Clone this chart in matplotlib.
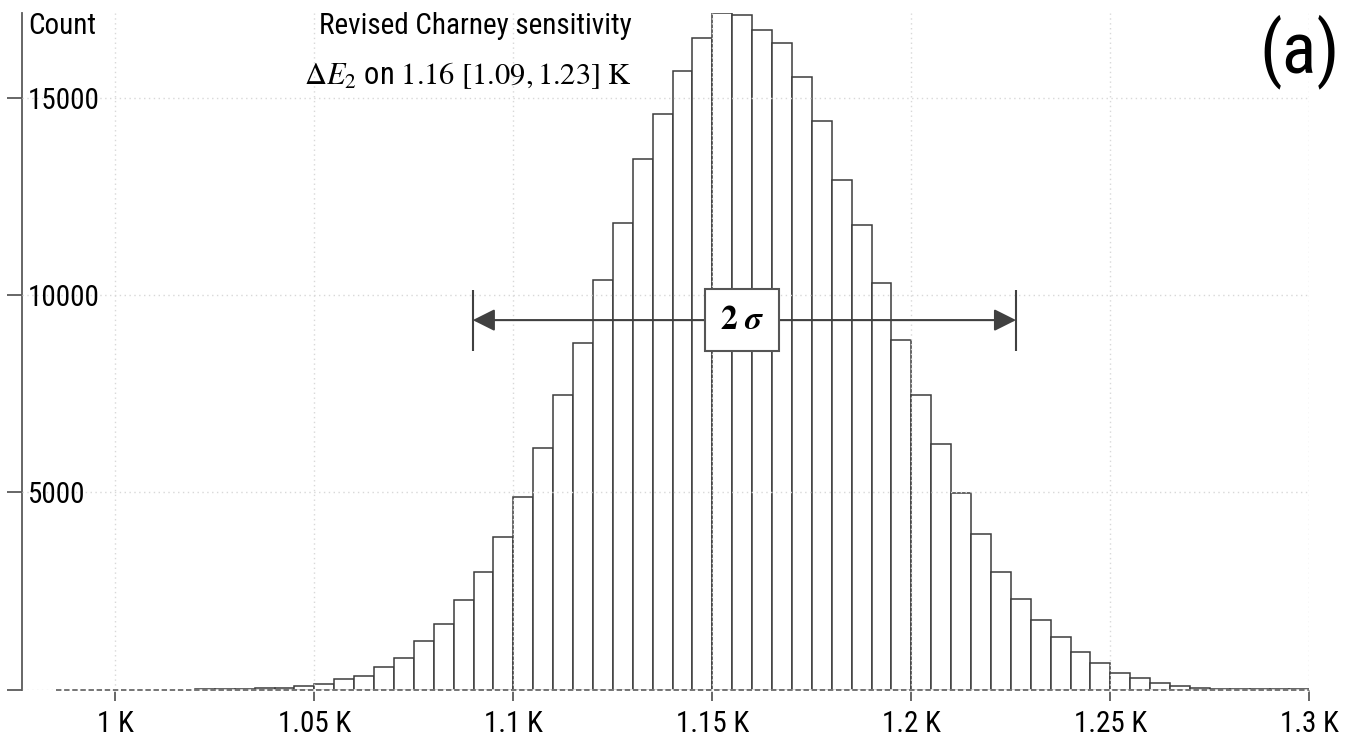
import matplotlib
matplotlib.use("Agg")
import matplotlib.pyplot as plt
from matplotlib import font_manager
import numpy as np

# ---------------- data ----------------
bin_width = 0.005
bin_left = [1.020, 1.025, 1.030, 1.035, 1.040, 1.045, 1.050, 1.055, 1.060, 1.065,
            1.070, 1.075, 1.080, 1.085, 1.090, 1.095, 1.100, 1.105, 1.110, 1.115,
            1.120, 1.125, 1.130, 1.135, 1.140, 1.145, 1.150, 1.155, 1.160, 1.165,
            1.170, 1.175, 1.180, 1.185, 1.190, 1.195, 1.200, 1.205, 1.210, 1.215,
            1.220, 1.225, 1.230, 1.235, 1.240, 1.245, 1.250, 1.255, 1.260, 1.265,
            1.270, 1.275, 1.280, 1.285, 1.290, 1.295]
counts = [5, 8, 15, 30, 50, 85, 135, 260, 335, 585,
          795, 1245, 1660, 2265, 2975, 3865, 4885, 6125, 7460, 8780,
          10385, 11840, 13445, 14595, 15690, 16515, 17150, 17115, 16730, 16385,
          15525, 14425, 12915, 11780, 10320, 8855, 7460, 6225, 4995, 3955,
          2975, 2290, 1765, 1325, 945, 665, 415, 300, 175, 100,
          50, 25, 22, 10, 6, 3]

xticks = [1.0, 1.05, 1.1, 1.15, 1.2, 1.25, 1.3]
xtick_labels = ["1 K", "1.05 K", "1.1 K", "1.15 K", "1.2 K", "1.25 K", "1.3 K"]
yticks = [0, 5000, 10000, 15000]
ytick_labels = ["", "5000", "10000", "15000"]

sigma_lo = 1.0898
sigma_hi = 1.2263
arrow_count = 9370

title_line1 = "Revised Charney sensitivity"
title_line2 = r"$\Delta E_2$ on $1.16\ [1.09, 1.23]\ \mathrm{K}$"
panel_label = "(a)"
sigma_label = r"$\mathbf{2}\ \boldsymbol{\sigma}$"

# ---------------- fonts ----------------
names = {f.name for f in font_manager.fontManager.ttflist}
main_font = None
for cand in ["Liberation Sans Narrow", "Roboto Condensed", "Open Sans Condensed",
             "Arial Narrow", "Nimbus Sans Narrow", "Noto Sans Display"]:
    if cand in names:
        main_font = cand
        break
condensed_dejavu = any(f.name == "DejaVu Sans" and "ondensed" in f.fname
                       for f in font_manager.fontManager.ttflist)
if main_font is None:
    main_font = "DejaVu Sans"
    if condensed_dejavu:
        plt.rcParams["font.stretch"] = "condensed"
plt.rcParams["font.family"] = [main_font, "DejaVu Sans"]
plt.rcParams["mathtext.fontset"] = "stix"

W, H = 1355, 742
fig = plt.figure(figsize=(W / 100, H / 100), dpi=100)
ax = fig.add_axes([21.7 / W, 1 - 689.6 / H, (1309.4 - 21.7) / W, (689.6 - 13.3) / H])

edge = "#3c3c3c"
ax.bar(bin_left, counts, width=bin_width, align="edge", color="white",
       edgecolor=edge, linewidth=1.1, zorder=2)

ax.set_xlim(0.97646, 1.3)
ax.set_ylim(0, max(counts))

# grid (drawn over bars, light dotted)
ax.set_axisbelow(False)
ax.grid(True, color="#d8d8d8", linestyle=(0, (1, 2.5)), linewidth=1.0)
for gl in ax.get_xgridlines() + ax.get_ygridlines():
    gl.set_zorder(3)

# baseline
ax.plot([0.985, 1.3], [0, 0], color="white", lw=1.8, zorder=4, clip_on=False,
        solid_capstyle="butt")
ax.plot([0.985, 1.3], [0, 0], color="#6a6a6a", lw=1.3, ls=(0, (3, 1.5)),
        zorder=5, clip_on=False)

for s in ["top", "right", "bottom"]:
    ax.spines[s].set_visible(False)
ax.spines["left"].set_color("#5a5a5a")
ax.spines["left"].set_linewidth(1.3)

fs = 21
ax.set_xticks(xticks)
ax.set_xticklabels(xtick_labels)
ax.set_yticks(yticks)
ax.set_yticklabels(ytick_labels)
ax.tick_params(axis="x", direction="out", length=8, width=1.3, color="#5a5a5a",
               pad=7, labelsize=fs, labelcolor="black")
ax.tick_params(axis="y", direction="out", length=11, width=1.3, color="#5a5a5a",
               pad=-15.5, labelsize=fs, labelcolor="black")
for lab in ax.get_yticklabels():
    lab.set_ha("left")

# 2-sigma arrow
ax.annotate("", xy=(sigma_lo, arrow_count), xytext=(sigma_hi, arrow_count),
            arrowprops=dict(arrowstyle="<|-|>,head_length=0.9,head_width=0.45",
                            mutation_scale=15, color="#404040", lw=1.5,
                            shrinkA=0, shrinkB=0), zorder=6)
ax.vlines([sigma_lo, sigma_hi], arrow_count - 775, arrow_count + 775,
          color="#404040", lw=1.5, zorder=6)
ax.text((sigma_lo + sigma_hi) / 2 - 0.0006, arrow_count, sigma_label, fontsize=24,
        ha="center", va="center", zorder=7,
        bbox=dict(boxstyle="square,pad=0.45", fc="white", ec="#555555", lw=1.5))

# texts
fig.text(28 / W, 1 - 26 / H, "Count", fontsize=fs, ha="left", va="center")
fig.text(632 / W, 1 - 26 / H, title_line1, fontsize=fs, ha="right", va="center")
fig.text(632 / W, 1 - 84 / H, title_line2, fontsize=22, ha="right", va="baseline")
fig.text(1340 / W, 1 - 52 / H, panel_label, fontsize=52, ha="right", va="center")

fig.savefig("out.png", dpi=100, facecolor="white")
